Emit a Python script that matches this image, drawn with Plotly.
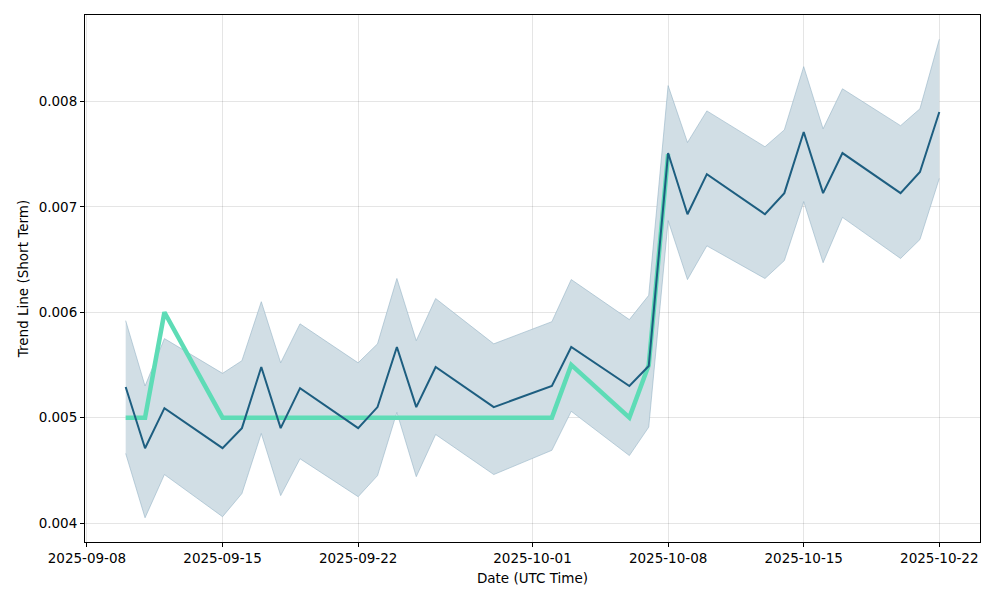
import plotly.graph_objects as go

dates = ["2025-09-10","2025-09-11","2025-09-12","2025-09-15","2025-09-16","2025-09-17","2025-09-18","2025-09-19",
         "2025-09-22","2025-09-23","2025-09-24","2025-09-25","2025-09-26","2025-09-29","2025-10-02","2025-10-03",
         "2025-10-06","2025-10-07","2025-10-08","2025-10-09","2025-10-10","2025-10-13","2025-10-14","2025-10-15",
         "2025-10-16","2025-10-17","2025-10-20","2025-10-21","2025-10-22"]
trend = [0.00529,0.00471,0.00509,0.00471,0.00490,0.00548,0.00490,0.00528,
         0.00490,0.00510,0.00567,0.00510,0.00548,0.00510,0.00530,0.00567,
         0.00530,0.00549,0.00751,0.00693,0.00731,0.00693,0.00713,0.00771,
         0.00713,0.00751,0.00713,0.00733,0.00790]
upper = [0.00592,0.00530,0.00575,0.00542,0.00554,0.00610,0.00552,0.00589,
         0.00552,0.00570,0.00632,0.00573,0.00613,0.00570,0.00591,0.00631,
         0.00593,0.00616,0.00815,0.00761,0.00791,0.00757,0.00773,0.00833,
         0.00774,0.00812,0.00777,0.00793,0.00859]
lower = [0.00466,0.00405,0.00446,0.00406,0.00428,0.00485,0.00426,0.00461,
         0.00425,0.00445,0.00505,0.00444,0.00484,0.00446,0.00469,0.00506,
         0.00464,0.00491,0.00687,0.00631,0.00663,0.00632,0.00649,0.00705,
         0.00647,0.00690,0.00651,0.00669,0.00727]
green_dates = dates[:19]
green = [0.005,0.005,0.006,0.005,0.005,0.005,0.005,0.005,
         0.005,0.005,0.005,0.005,0.005,0.005,0.005,0.0055,
         0.005,0.0055,0.0075]
xtick_labels = ["2025-09-08","2025-09-15","2025-09-22","2025-10-01","2025-10-08","2025-10-15","2025-10-22"]
ytick_vals = [0.004,0.005,0.006,0.007,0.008]

band_line = "rgba(150,180,198,0.6)"
fig = go.Figure()
fig.add_trace(go.Scatter(x=dates, y=upper, mode="lines", line=dict(color=band_line, width=1), showlegend=False))
fig.add_trace(go.Scatter(x=dates, y=lower, mode="lines", line=dict(color=band_line, width=1),
                         fill="tonexty", fillcolor="rgba(209,222,229,1)", showlegend=False))
fig.add_trace(go.Scatter(x=green_dates, y=green, mode="lines", line=dict(color="#5edcb6", width=4.5), showlegend=False))
fig.add_trace(go.Scatter(x=dates, y=trend, mode="lines", line=dict(color="#1d5e80", width=2), showlegend=False))

axis_common = dict(showline=True, linecolor="black", linewidth=1, mirror=True,
                   ticks="outside", ticklen=4, tickcolor="black",
                   showgrid=True, gridcolor="rgba(0,0,0,0.1)", gridwidth=1, zeroline=False,
                   tickfont=dict(family="DejaVu Sans", size=13.5, color="black"))
fig.update_layout(
    width=1000, height=600,
    margin=dict(l=77, r=28, t=7, b=66),
    plot_bgcolor="white", paper_bgcolor="white",
    font=dict(family="DejaVu Sans", size=13.5, color="black"),
    xaxis=dict(axis_common, range=["2025-09-07 21:36", "2025-10-24 02:24"],
               tickvals=xtick_labels, ticktext=xtick_labels,
               title=dict(text="Date (UTC Time)", font=dict(size=13.5), standoff=8)),
    yaxis=dict(axis_common, range=[0.00382, 0.00882], tickvals=ytick_vals,
               tickformat=".3f",
               title=dict(text="Trend Line (Short Term)", font=dict(size=13.5), standoff=6)),
)
fig.write_html("out.html")
